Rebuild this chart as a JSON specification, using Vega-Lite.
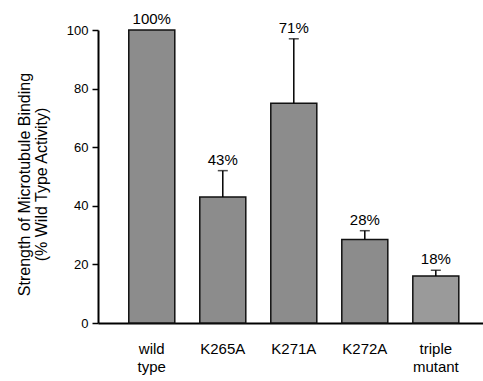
{
  "$schema": "https://vega.github.io/schema/vega-lite/v6.json",
  "autosize": "none",
  "width": 385,
  "height": 293,
  "padding": {"left": 98, "top": 30, "right": 0, "bottom": 58},
  "background": "white",
  "config": {
    "view": {"stroke": null},
    "font": "Liberation Sans",
    "axis": {"labelFont": "Liberation Sans", "titleFont": "Liberation Sans", "labelColor": "#000", "titleColor": "#000", "domainColor": "#000", "tickColor": "#000"}
  },
  "data": {
    "values": [
      {"mutant": "wild type", "value": 100, "err": null, "top": 100, "label": "100%"},
      {"mutant": "K265A", "value": 43, "err": 52, "top": 52, "label": "43%"},
      {"mutant": "K271A", "value": 75, "err": 97, "top": 97, "label": "71%"},
      {"mutant": "K272A", "value": 28.5, "err": 31.5, "top": 31.5, "label": "28%"},
      {"mutant": "triple mutant", "value": 16, "err": 18, "top": 18, "label": "18%"}
    ]
  },
  "encoding": {
    "x": {
      "field": "mutant", "type": "nominal", "sort": null,
      "scale": {"paddingInner": 0.352, "paddingOuter": 0.387, "align": 0.56},
      "axis": {
        "title": null, "ticks": false, "domainWidth": 2, "labelAngle": 0,
        "labelFontSize": 15, "labelPadding": 18, "labelLineHeight": 18,
        "labelExpr": "split(datum.label, ' ')"
      }
    }
  },
  "layer": [
    {
      "mark": {"type": "bar", "stroke": "#111", "strokeWidth": 1.5},
      "encoding": {
        "y": {
          "field": "value", "type": "quantitative",
          "scale": {"domain": [0, 100], "nice": false},
          "axis": {
            "values": [0, 10, 20, 30, 40, 50, 60, 70, 80, 90, 100],
            "labelExpr": "datum.value % 20 === 0 ? datum.label : ''",
            "tickSize": {"condition": {"test": "datum.value % 20 === 0", "value": 6}, "value": 4},
            "tickWidth": 1.5, "domainWidth": 2, "grid": false,
            "labelFontSize": 13, "labelPadding": 4,
            "title": ["Strength of Microtubule Binding", "(% Wild Type Activity)"],
            "titleFontSize": 16, "titleFontWeight": "normal", "titleLineHeight": 17,
            "titleAngle": -90, "titleAlign": "center", "titleBaseline": "top",
            "titleX": -82, "titleY": 154
          }
        },
        "fill": {"condition": {"test": "datum.mutant === 'triple mutant'", "value": "#9a9a9a"}, "value": "#8c8c8c"}
      }
    },
    {
      "transform": [{"filter": "datum.err != null"}],
      "mark": {"type": "rule", "color": "#000", "strokeWidth": 1.5},
      "encoding": {"y": {"field": "value", "type": "quantitative"}, "y2": {"field": "err"}}
    },
    {
      "transform": [{"filter": "datum.err != null"}],
      "mark": {"type": "tick", "color": "#000", "thickness": 1.5, "size": 10},
      "encoding": {"y": {"field": "err", "type": "quantitative"}}
    },
    {
      "mark": {"type": "text", "baseline": "bottom", "dy": -3, "fontSize": 15, "color": "#000", "font": "Liberation Sans"},
      "encoding": {"y": {"field": "top", "type": "quantitative"}, "text": {"field": "label"}}
    }
  ]
}
